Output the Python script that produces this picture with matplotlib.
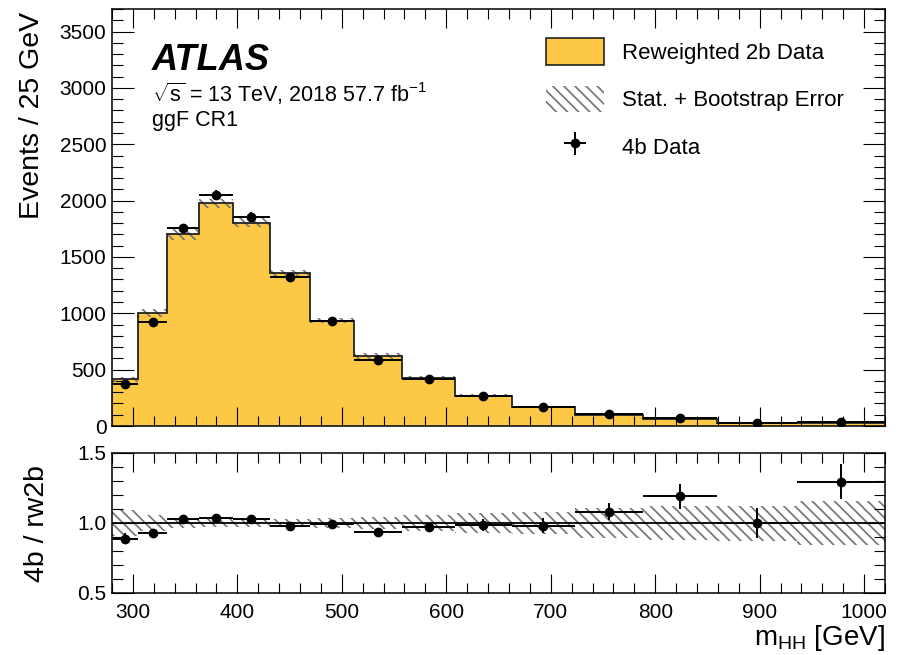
import numpy as np
import matplotlib
matplotlib.use("Agg")
import matplotlib.pyplot as plt
from matplotlib.patches import Patch
from matplotlib.ticker import MultipleLocator

plt.rcParams['font.family'] = ['Liberation Sans', 'DejaVu Sans']
plt.rcParams['mathtext.fontset'] = 'custom'
plt.rcParams['mathtext.rm'] = 'Liberation Sans'
plt.rcParams['mathtext.it'] = 'Liberation Sans:italic'
plt.rcParams['hatch.linewidth'] = 1.25

# ---------------- data ----------------
bin_edges = [280, 305, 333, 363, 396, 431, 470, 512, 558, 608, 663, 723, 788, 859, 936, 1020]
rw2b_counts = [415, 1000, 1700, 1975, 1805, 1355, 935, 625, 428, 270, 168, 100, 58, 30, 27]
rw2b_err = [22, 37, 47, 41, 37, 30, 25, 27, 18, 15, 12, 10, 8, 5, 4]
data4b_counts = [369, 926, 1753, 2050, 1857, 1322, 928, 585, 415, 266, 165, 108, 69, 30, 35]
data4b_err = [19, 30, 42, 45, 43, 36, 30, 24, 20, 16, 13, 10, 8, 6, 6]
ratio_band_rel = [0.095, 0.06, 0.036, 0.03, 0.03, 0.03, 0.033, 0.045, 0.06, 0.07,
                  0.077, 0.107, 0.12, 0.125, 0.155]
ratio_data_err = [0.036, 0.025, 0.02, 0.02, 0.02, 0.02, 0.02, 0.025, 0.03, 0.04,
                  0.054, 0.06, 0.087, 0.107, 0.124]

label_hist = "Reweighted 2b Data"
label_band = "Stat. + Bootstrap Error"
label_data = "4b Data"

edges = np.array(bin_edges, float)
hist = np.array(rw2b_counts, float)
herr = np.array(rw2b_err, float)
dat = np.array(data4b_counts, float)
derr = np.array(data4b_err, float)
centers = 0.5 * (edges[1:] + edges[:-1])
halfw = 0.5 * (edges[1:] - edges[:-1])
ratio = dat / hist
rband = np.array(ratio_band_rel)
rerr = np.array(ratio_data_err)

YELLOW = '#fcc845'
HATCH_C = '#777777'
HATCH = '\\\\\\'

W, H = 900, 655
fig = plt.figure(figsize=(W / 100, H / 100), dpi=100)

def ax_rect(l, t, r, b):
    return [l / W, 1 - b / H, (r - l) / W, (b - t) / H]

ax = fig.add_axes(ax_rect(112, 9, 885, 426))
rax = fig.add_axes(ax_rect(112, 453, 885, 593))

# ---- main panel ----
ax.stairs(hist, edges, fill=True, color=YELLOW, lw=0, zorder=1)
ax.stairs(hist + herr, edges, baseline=hist - herr, fill=True, facecolor='none',
          edgecolor=HATCH_C, hatch=HATCH, lw=0, zorder=2)
ax.stairs(hist, edges, color='#222222', lw=1.3, zorder=3)
eb = ax.errorbar(centers, dat, xerr=halfw, yerr=derr, fmt='o', color='black',
                 ms=6, lw=1.4, capsize=0, zorder=4)

ax.set_xlim(280, 1020)
ax.set_ylim(0, 3700)
ax.set_xticklabels([])
ax.yaxis.set_major_locator(MultipleLocator(500))
ax.yaxis.set_minor_locator(MultipleLocator(100))
ax.xaxis.set_major_locator(MultipleLocator(100))
ax.xaxis.set_minor_locator(MultipleLocator(20))

# ---- ratio panel ----
rax.stairs(1 + rband, edges, baseline=1 - rband, fill=True, facecolor='none',
           edgecolor=HATCH_C, hatch=HATCH, lw=0, zorder=1)
rax.axhline(1.0, color='black', lw=1.3, zorder=2)
rax.errorbar(centers, ratio, xerr=halfw, yerr=rerr, fmt='o', color='black',
             ms=6, lw=1.4, capsize=0, zorder=3)
rax.set_xlim(280, 1020)
rax.set_ylim(0.5, 1.5)
rax.yaxis.set_major_locator(MultipleLocator(0.5))
rax.yaxis.set_minor_locator(MultipleLocator(0.1))
rax.xaxis.set_major_locator(MultipleLocator(100))
rax.xaxis.set_minor_locator(MultipleLocator(20))

for a in (ax, rax):
    for s in a.spines.values():
        s.set_linewidth(1.1)
    a.tick_params(which='both', direction='in', top=True, right=True,
                  width=0.8, labelsize=15)
    a.tick_params(axis='x', which='major', length=14, pad=7)
    a.tick_params(axis='x', which='minor', length=7)
    a.tick_params(axis='y', which='major', length=16, pad=4)
    a.tick_params(axis='y', which='minor', length=8)

# ---- labels ----
fig.text(32 / W, 1 - 12 / H, 'Events / 25 GeV', rotation=90, ha='center', va='top',
         fontsize=20.5)
fig.text(37 / W, 1 - 524 / H, '4b / rw2b', rotation=90, ha='center', va='center',
         fontsize=20.5)
fig.text(885 / W, 1 - 645 / H, r'm$_{\mathrm{HH}}$ [GeV]', ha='right', va='baseline',
         fontsize=20)

ax.text(0.0517, 0.853, 'ATLAS', transform=ax.transAxes, fontsize=26,
        fontweight='bold', fontstyle='italic', va='baseline')
ax.text(0.0517, 0.777, r'$\sqrt{\mathrm{s}}$ = 13 TeV, 2018 57.7 fb$^{-1}$',
        transform=ax.transAxes, fontsize=15.5, va='baseline')
ax.text(0.0517, 0.720, 'ggF CR1', transform=ax.transAxes, fontsize=15.5, va='baseline')

h1 = Patch(facecolor=YELLOW, edgecolor='#222222', lw=1.2)
h2 = Patch(facecolor='none', edgecolor=HATCH_C, hatch=HATCH, lw=0)
leg = ax.legend([h1, h2, eb], [label_hist, label_band, label_data],
                loc='upper left', bbox_to_anchor=(0.5614, 0.93), frameon=False,
                fontsize=16, handlelength=2.6, handleheight=1.45, handletextpad=0.8,
                labelspacing=0.95, borderpad=0, borderaxespad=0)

fig.savefig('out.png', dpi=100)
